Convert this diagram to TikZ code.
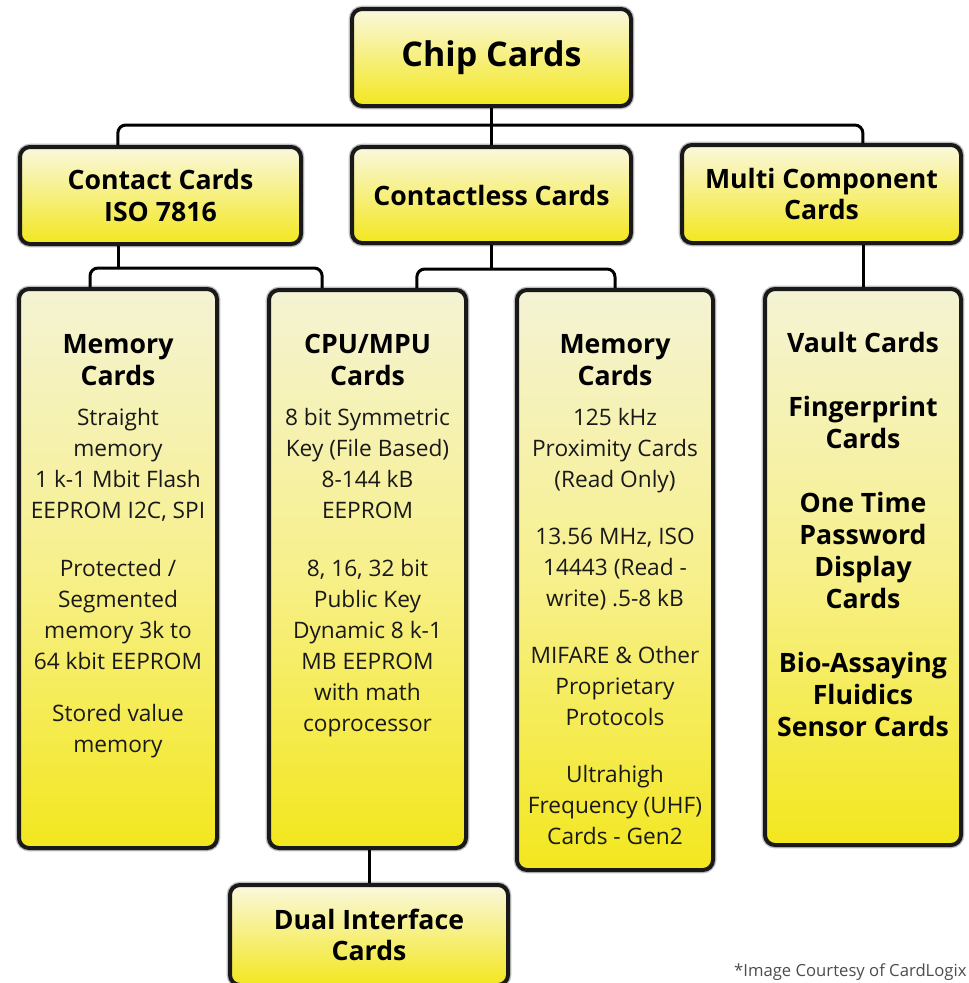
\documentclass[tikz,border=0pt]{standalone}
\usepackage{fontspec}
\setmainfont{Open Sans}
\definecolor{cardpale}{RGB}{250,248,222}
\definecolor{cardcream}{RGB}{244,243,212}
\definecolor{cardmid}{RGB}{247,240,140}
\definecolor{cardyellow}{RGB}{243,231,30}

\tikzset{every picture/.style={line width=0.75pt}}
\tikzset{
  cardbox/.style={draw=black!90, line width=3pt, rounded corners=7.5pt,
    preaction={draw=black!25, line width=5pt},
    top color=cardpale, bottom color=cardyellow, inner sep=0pt, align=center},
  tallbox/.style={cardbox, top color=cardcream, bottom color=cardyellow, middle color=cardmid},
  toptxt/.style={font=\fontsize{20}{23.5}\selectfont\bfseries},
  headtxt/.style={anchor=north, inner sep=0pt, align=center, font=\fontsize{20}{24}\selectfont\bfseries},
  bodytxt/.style={anchor=north, inner sep=0pt, align=center, text=black!90, font=\fontsize{17}{23.25}\selectfont},
  bus/.style={line width=2.25pt, rounded corners=6pt}
}

\begin{document}
\begin{tikzpicture}[x=0.75pt,y=0.75pt,yscale=-1,xscale=1]
\useasboundingbox (0,0) rectangle (969,983);

%Shape: Rectangle [chip]
\node [cardbox, minimum width=209.25pt, minimum height=72.75pt, font=\fontsize{25.5}{30}\selectfont\bfseries] (chip) at (491.5,57.5) {Chip Cards};
%Shape: Rectangle [second row]
\node [cardbox, toptxt, minimum width=210.75pt, minimum height=72.75pt] (contact) at (160.5,195.5) {Contact Cards\\ISO 7816};
\node [cardbox, toptxt, minimum width=209.25pt, minimum height=72pt] (contactless) at (491.5,195) {Contactless Cards};
\node [cardbox, toptxt, minimum width=209.25pt, minimum height=73.5pt] (multi) at (821.5,194) {Multi Component\\Cards};
%Shape: Rectangle [tall boxes]
\node [tallbox, minimum width=148.5pt, minimum height=419.25pt] (memL) at (118,568.5) {};
\node [tallbox, minimum width=147.75pt, minimum height=418.5pt] (cpu) at (367.5,569) {};
\node [tallbox, minimum width=147pt, minimum height=435pt] (memM) at (615,580) {};
\node [tallbox, minimum width=147pt, minimum height=417pt] (vault) at (863,567) {};
%Shape: Rectangle [bottom]
\node [cardbox, toptxt, minimum width=208.5pt, minimum height=75pt] (dual) at (369,935) {Dual Interface\\Cards};

%Straight Lines [connectors]
\coordinate (topbus) at (491.5,125);
\coordinate (leftbus) at (118,268);
\coordinate (midbus) at (491.5,269);
\draw [bus] (chip.south) -- (topbus);
\draw [bus] ([xshift=-32pt]contact.north) |- (topbus) -| ([xshift=31pt]multi.north);
\draw [bus] (topbus) -- (contactless.north);
\draw [bus] (contact.south -| leftbus) -- (leftbus);
\draw [bus] ([xshift=-21pt]memL.north) |- (leftbus) -| ([xshift=-34pt]cpu.north);
\draw [bus] (contactless.south) -- (midbus);
\draw [bus] ([xshift=37pt]cpu.north) |- (midbus) -| (memM.north);
\draw [bus] (multi.south -| vault.north) -- (vault.north);
\draw [bus] (cpu.south -| dual.north) -- (dual.north);

% Text Node
\node [headtxt] (memLhead) at (118,334) {Memory\\Cards};
\node [bodytxt] (memLbody) at (118,408) {Straight\\memory\\1 k-1 Mbit Flash\\EEPROM I2C, SPI\\[20pt]Protected /\\Segmented\\memory 3k to\\64 kbit EEPROM\\[16pt]Stored value\\memory};
% Text Node
\node [headtxt] (cpuhead) at (367.5,334) {CPU/MPU\\Cards};
\node [bodytxt] (cpubody) at (367.5,408) {8 bit Symmetric\\Key (File Based)\\8-144 kB\\EEPROM\\[20pt]8, 16, 32 bit\\Public Key\\Dynamic 8 k-1\\MB EEPROM\\with math\\coprocessor};
% Text Node
\node [headtxt] (memMhead) at (615,334) {Memory\\Cards};
\node [bodytxt] (memMbody) at (615,408) {125 kHz\\Proximity Cards\\(Read Only)\\[19.5pt]13.56 MHz, ISO\\14443 (Read -\\write) .5-8 kB\\[19.5pt]MIFARE \& Other\\Proprietary\\Protocols\\[19.5pt]Ultrahigh\\Frequency (UHF)\\Cards - Gen2};
% Text Node
\node [headtxt] (vaulttxt) at (863,332) {Vault Cards\\[24pt]Fingerprint\\Cards\\[24pt]One Time\\Password\\Display\\Cards\\[24pt]Bio-Assaying\\Fluidics\\Sensor Cards};
% Text Node
\node [anchor=south east, inner sep=0pt, text=black!70, font=\fontsize{12.5}{14}\selectfont] (credit) at (967,981) {*Image Courtesy of CardLogix};

\end{tikzpicture}
\end{document}
